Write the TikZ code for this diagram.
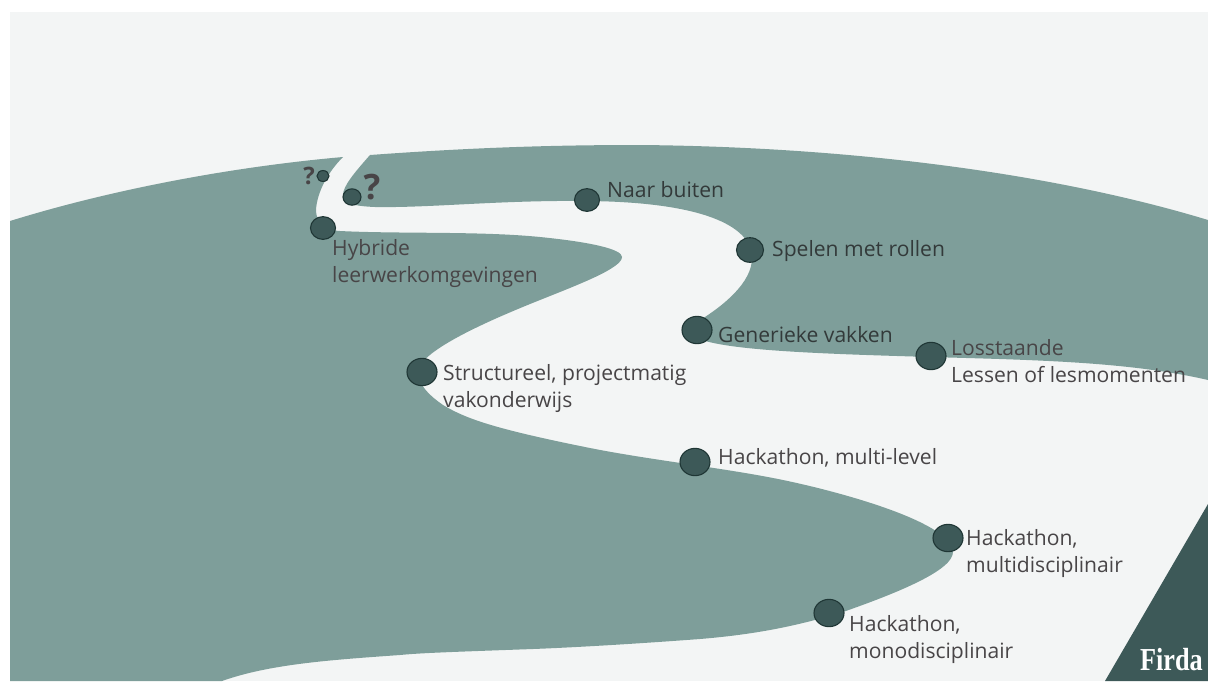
\documentclass[tikz,border=0pt]{standalone}
\usepackage{fontspec}
\setmainfont{Open Sans}
\newfontfamily\logofont{Liberation Serif}
\usetikzlibrary{shapes.geometric}
\definecolor{pagebg}{HTML}{F3F5F5}
\definecolor{river}{HTML}{7E9E9A}
\definecolor{dotfill}{HTML}{3D5958}
\definecolor{dotline}{HTML}{1F3635}
\definecolor{txtA}{HTML}{333A3A}
\definecolor{txtB}{HTML}{484547}
\newcommand{\lbl}{\fontsize{21.1}{27.5}\selectfont}
\tikzset{
  stop/.style={ellipse,draw=dotline,fill=dotfill,line width=1.1pt,inner sep=0pt,minimum width=#1*1pt,minimum height=#1*0.91pt},
  lab/.style={anchor=north west,inner sep=0pt,align=left,text=txtA,font=\lbl},
  labb/.style={lab,text=txtB},
}
\begin{document}
\begin{tikzpicture}[x=1pt,y=-1pt]
\useasboundingbox (0,0) rectangle (1208,681);
\fill[white] (0,0) rectangle (1208,681);
\fill[pagebg] (10,12) rectangle (1208,681);
% lower river bank
\fill[river] (10,221) .. controls (110,190) and (230,167) .. (343,157)
  .. controls (328,172) and (317,192) .. (316,210)
  .. controls (316,222) and (324,230) .. (340,231)
  .. controls (400,234) and (480,231) .. (540,237)
  .. controls (590,242) and (622,249) .. (622,257)
  .. controls (622,268) and (580,284) .. (540,300)
  .. controls (500,316) and (418,350) .. (418,372)
  .. controls (418,385) and (430,396) .. (443,405)
  .. controls (465,418) and (490,428) .. (590,448)
  .. controls (650,460) and (725,468) .. (783,480)
  .. controls (850,494) and (953,524) .. (953,552)
  .. controls (953,570) and (900,592) .. (843,612)
  .. controls (800,625) and (760,634) .. (700,639)
  .. controls (620,645) and (560,648) .. (533,649)
  .. controls (450,652) and (420,653) .. (400,655)
  .. controls (330,660) and (270,664) .. (222,681)
  -- (10,681) -- cycle;
% upper river bank
\fill[river] (370,155) .. controls (480,147) and (560,145) .. (640,145)
  .. controls (860,147) and (1060,175) .. (1208,220)
  -- (1208,380)
  .. controls (1130,362) and (1040,360) .. (930,357)
  .. controls (830,354) and (725,351) .. (697,338)
  -- (697,322)
  .. controls (725,305) and (752,282) .. (752,258)
  .. controls (752,225) and (700,202) .. (587,201)
  .. controls (500,200) and (430,208) .. (375,207)
  .. controls (352,206) and (343,203) .. (343,195)
  .. controls (343,186) and (355,172) .. (370,155) -- cycle;
% corner
\fill[dotfill] (1208,504) -- (1208,681) -- (1105,681) -- cycle;
\node[text=white,anchor=base east,inner sep=0pt,xscale=.82,transform shape,font=\logofont\bfseries\fontsize{32}{32}\selectfont] (logo) at (1203,670) {Firda};
% stops
\node[stop=12] (q1) at (323,176) {};
\node[stop=18] (q2) at (352,197) {};
\node[stop=25] (s1) at (323,228) {};
\node[stop=25] (s2) at (587,200) {};
\node[stop=27] (s3) at (750,250) {};
\node[stop=30] (s4) at (697,330) {};
\node[stop=30] (s5) at (931,356) {};
\node[stop=30] (s6) at (422,372) {};
\node[stop=30] (s7) at (695,462) {};
\node[stop=30] (s8) at (948,538) {};
\node[stop=30] (s9) at (829,613) {};
% question marks
\node[text=txtB,inner sep=0pt,font=\fontsize{24}{24}\selectfont\bfseries] (t1) at (309,176) {?};
\node[text=txtB,inner sep=0pt,font=\fontsize{35}{35}\selectfont\bfseries] (t2) at (372,187) {?};
% labels
\node[lab] (l2) at (607,181) {Naar buiten};
\node[lab] (l3) at (772,240) {Spelen met rollen};
\node[lab] (l4) at (718,326) {Generieke vakken};
\node[labb] (l1) at (332,239) {Hybride\\leerwerkomgevingen};
\node[labb] (l5) at (951,339) {Losstaande\\Lessen of lesmomenten};
\node[labb] (l6) at (443,364) {Structureel, projectmatig\\vakonderwijs};
\node[labb] (l7) at (718,448) {Hackathon, multi-level};
\node[labb] (l8) at (966,529) {Hackathon,\\multidisciplinair};
\node[labb] (l9) at (849,615) {Hackathon,\\monodisciplinair};
\end{tikzpicture}
\end{document}
